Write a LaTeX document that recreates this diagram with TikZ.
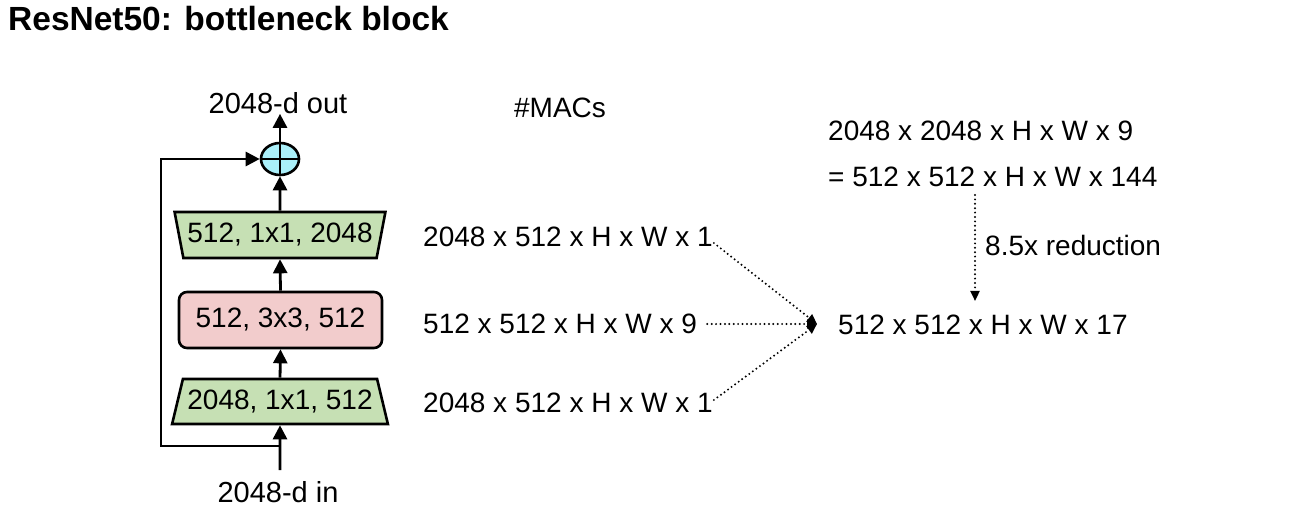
\documentclass[tikz,border=0pt]{standalone}
\usepackage{fontspec}
\setmainfont{Liberation Sans}
\usetikzlibrary{arrows.meta,shapes.geometric}
\definecolor{blkgreen}{RGB}{198,224,180}
\definecolor{blkpink}{RGB}{242,204,204}
\definecolor{blkcyan}{RGB}{170,240,250}
\tikzset{
  txt/.style={inner sep=0pt, font=\fontsize{28}{33}\selectfont},
  lbl/.style={inner sep=0pt, font=\fontsize{29}{34}\selectfont},
  blk/.style={draw=black, line width=2.6pt, inner sep=0pt, font=\fontsize{28}{33}\selectfont},
  flow/.style={line width=2.8pt, -{Triangle[length=14pt,width=14pt]}},
  dotarrow/.style={line width=2.2pt, line cap=round, dash pattern=on 0pt off 4.4pt, -{Triangle[length=10pt,width=9pt,line cap=butt]}},
}
\begin{document}
\begin{tikzpicture}[x=1pt,y=-1pt]
\useasboundingbox (0,0) rectangle (1289,518);
% title
\node[anchor=west, inner sep=0pt, font=\fontsize{33.5}{38}\selectfont\bfseries] (title) at (8,19) {ResNet50: bottleneck block};
% left diagram
\node[lbl] (out) at (278,103) {2048-d out};
\node[lbl] (in) at (278,492) {2048-d in};
\node[draw=black, line width=2.6pt, ellipse, fill=blkcyan, minimum width=38pt, minimum height=32pt, inner sep=0pt] (plus) at (280,159) {};
\draw[line width=2.6pt] (plus.north) -- (plus.south) (plus.west) -- (plus.east);
\node[blk, fill=blkgreen, trapezium, shape border rotate=180, trapezium left angle=70, trapezium right angle=70, minimum width=211pt, minimum height=46pt, trapezium stretches=true] (t2) at (280,235) {512, 1x1, 2048};
\node[blk, fill=blkpink, rectangle, rounded corners=8pt, minimum width=203pt, minimum height=56pt] (mid) at (280.5,320) {512, 3x3, 512};
\node[blk, fill=blkgreen, trapezium, trapezium left angle=66, trapezium right angle=66, minimum width=216pt, minimum height=45pt, trapezium stretches=true] (t1) at (280,401.5) {2048, 1x1, 512};
\coordinate (start) at (280,470);
\coordinate (skipbot) at (161,446);
\coordinate (skiptop) at (161,159);
\draw[flow] (start) -- (t1.south);
\draw[flow] (t1.north) -- (mid.south);
\draw[flow] (mid.north) -- (t2.south);
\draw[flow] (t2.north) -- (plus.south);
\draw[flow] (plus.north) -- (plus.north |- out.south);
\draw[flow] (280,446) -- (skipbot) -- (skiptop) -- (plus.west);
% MACs
\node[txt] (macs) at (560,108) {\#MACs};
\node[txt, anchor=west] (m1) at (423,237) {2048 x 512 x H x W x 1};
\node[txt, anchor=west] (m2) at (423,324) {512 x 512 x H x W x 9};
\node[txt, anchor=west] (m3) at (423,403) {2048 x 512 x H x W x 1};
\node[txt, anchor=west] (res) at (838,325) {512 x 512 x H x W x 17};
\coordinate (tip) at (817,324);
\draw[dotarrow] ([xshift=1pt,yshift=-6pt]m1.east) -- (tip);
\draw[dotarrow] ([xshift=10pt]m2.east) -- (tip);
\draw[dotarrow] ([xshift=1pt,yshift=3pt]m3.east) -- (tip);
\node[txt, anchor=west] (r1) at (828,131) {2048 x 2048 x H x W x 9};
\node[txt, anchor=west] (r2) at (828,177) {= 512 x 512 x H x W x 144};
\coordinate (vtop) at (975,195);
\coordinate (vbot) at (975,301);
\draw[dotarrow] (vtop) -- (vbot);
\node[txt, anchor=west] (red) at (985,245) {8.5x reduction};
\end{tikzpicture}
\end{document}
